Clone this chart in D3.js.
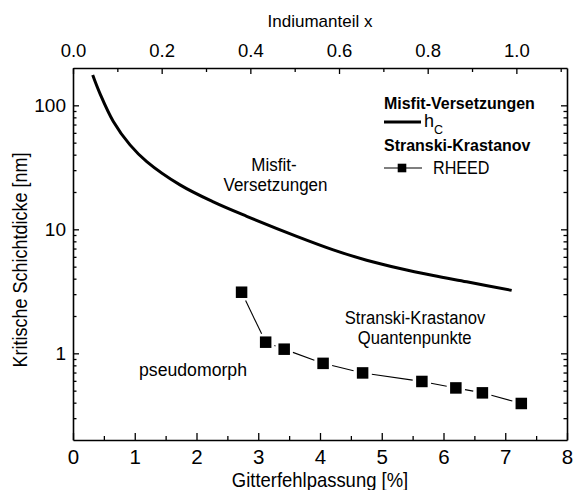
<!DOCTYPE html>
<html>
<head>
<meta charset="utf-8">
<script src="https://cdn.jsdelivr.net/npm/d3@7"></script>
<style>
  html, body { margin: 0; padding: 0; background: #fff; }
  svg { display: block; }
  text { font-family: "Liberation Sans", Arial, Helvetica, sans-serif; fill: #000; }
</style>
</head>
<body>
<svg id="chart" width="573" height="490"></svg>
<script>
// ---- data ----
// critical thickness h_c: misfit [%] -> thickness [nm]
const hcMisfit = [0.319, 0.437, 0.653, 0.923, 1.194, 1.733, 2.272, 2.813, 3.623, 4.215, 4.755, 5.296, 5.835, 6.376, 7.104];
const hcThick  = [175.6, 124.3, 74.1, 47.96, 35.17, 22.82, 16.64, 12.74, 8.786, 6.837, 5.636, 4.832, 4.243, 3.774, 3.218];
// RHEED onset of Stranski-Krastanov islanding
const rheedMisfit = [2.73, 3.12, 3.42, 4.05, 4.69, 5.65, 6.20, 6.63, 7.26];
const rheedThick  = [3.11, 1.23, 1.08, 0.83, 0.695, 0.593, 0.526, 0.48, 0.394];
// axes
const bottomTicks = [0, 1, 2, 3, 4, 5, 6, 7, 8];
const bottomMinor = [0.5, 1.5, 2.5, 3.5, 4.5, 5.5, 6.5, 7.5];
const topTicks = [0.0, 0.2, 0.4, 0.6, 0.8, 1.0];
const topMinor = [0.1, 0.3, 0.5, 0.7, 0.9, 1.1];
const leftTicks = [1, 10, 100];
const leftMinor = [0.3, 0.4, 0.5, 0.6, 0.7, 0.8, 0.9, 2, 3, 4, 5, 6, 7, 8, 9, 20, 30, 40, 50, 60, 70, 80, 90];
const misfitAtX1 = 7.18; // mismatch InAs/GaAs [%] -> top axis x = 1.0
const xLabel = "Gitterfehlpassung [%]";
const xTopLabel = "Indiumanteil x";
const yLabel = "Kritische Schichtdicke  [nm]";

// ---- layout ----
const L = 73, R = 567, T = 68, B = 440;
const svg = d3.select("#chart");

const x = d3.scaleLinear().domain([0, 8]).range([L, R]);
const xTop = d3.scaleLinear().domain([0, 8 / misfitAtX1]).range([L, R]);
const y = d3.scaleLog().domain([0.2, 200]).range([B, T]);

function styleAxis(g, fs) {
  g.selectAll("path.domain").attr("stroke", "#000").attr("stroke-width", 1.6);
  g.selectAll(".tick line").attr("stroke", "#000").attr("stroke-width", 1.3);
  g.selectAll("text").attr("font-size", fs).attr("fill", "#000")
    .style("font-family", '"Liberation Sans", Arial, sans-serif');
}

// bottom axis
svg.append("g").attr("transform", `translate(0,${B})`)
  .call(d3.axisBottom(x).tickValues(bottomTicks).tickFormat(d3.format("d")).tickSize(-7).tickSizeOuter(0).tickPadding(9))
  .call(g => styleAxis(g, 20.5));
svg.append("g").attr("transform", `translate(0,${B})`)
  .call(d3.axisBottom(x).tickValues(bottomMinor).tickFormat("").tickSize(-4).tickSizeOuter(0))
  .call(g => { styleAxis(g, 10); g.select("path.domain").remove(); });

// top axis
svg.append("g").attr("transform", `translate(0,${T})`)
  .call(d3.axisTop(xTop).tickValues(topTicks).tickFormat(d3.format(".1f")).tickSize(-6).tickSizeOuter(0).tickPadding(11))
  .call(g => styleAxis(g, 18.5));
svg.append("g").attr("transform", `translate(0,${T})`)
  .call(d3.axisTop(xTop).tickValues(topMinor).tickFormat("").tickSize(-4).tickSizeOuter(0))
  .call(g => { styleAxis(g, 10); g.select("path.domain").remove(); });

// left axis
svg.append("g").attr("transform", `translate(${L},0)`)
  .call(d3.axisLeft(y).tickValues(leftTicks).tickFormat(d3.format("d")).tickSize(-6).tickSizeOuter(0).tickPadding(7))
  .call(g => styleAxis(g, 19));
svg.append("g").attr("transform", `translate(${L},0)`)
  .call(d3.axisLeft(y).tickValues(leftMinor).tickFormat("").tickSize(-3.5).tickSizeOuter(0))
  .call(g => { styleAxis(g, 10); g.select("path.domain").remove(); });

// right axis
svg.append("g").attr("transform", `translate(${R},0)`)
  .call(d3.axisRight(y).tickValues(leftTicks).tickFormat("").tickSize(-6).tickSizeOuter(0))
  .call(g => styleAxis(g, 10));
svg.append("g").attr("transform", `translate(${R},0)`)
  .call(d3.axisRight(y).tickValues(leftMinor).tickFormat("").tickSize(-3.5).tickSizeOuter(0))
  .call(g => { styleAxis(g, 10); g.select("path.domain").remove(); });

// text helper
function label(txt, px, py, opt = {}) {
  const g = svg.append("g")
    .attr("transform", `translate(${px},${py}) rotate(${opt.rot || 0}) scale(${opt.sx || 1},1)`);
  return g.append("text")
    .attr("text-anchor", opt.anchor || "middle")
    .attr("font-size", opt.fs || 19)
    .attr("font-weight", opt.bold ? "bold" : "normal")
    .text(txt);
}

// axis titles
label(xLabel, (L + R) / 2, 487, { fs: 20.5, sx: 0.9 });
label(xTopLabel, (L + R) / 2, 26.5, { fs: 17 });
label(yLabel, 27, 260, { fs: 20, rot: -90, sx: 0.9 });

// h_c curve
const hcData = hcMisfit.map((m, i) => [m, hcThick[i]]);
svg.append("path")
  .datum(hcData)
  .attr("fill", "none").attr("stroke", "#000").attr("stroke-width", 3)
  .attr("d", d3.line().x(d => x(d[0])).y(d => y(d[1])).curve(d3.curveCatmullRom.alpha(0.5)));

// RHEED series: line segments with gaps around symbols
const rd = rheedMisfit.map((m, i) => [x(m), y(rheedThick[i])]);
const gap = 9.3;
const segs = [];
for (let i = 0; i < rd.length - 1; i++) {
  const [x1, y1] = rd[i], [x2, y2] = rd[i + 1];
  const len = Math.hypot(x2 - x1, y2 - y1);
  if (len > 2 * gap) {
    const ux = (x2 - x1) / len, uy = (y2 - y1) / len;
    segs.push([x1 + ux * gap, y1 + uy * gap, x2 - ux * gap, y2 - uy * gap]);
  }
}
svg.append("g").selectAll("line").data(segs).join("line")
  .attr("x1", d => d[0]).attr("y1", d => d[1]).attr("x2", d => d[2]).attr("y2", d => d[3])
  .attr("stroke", "#000").attr("stroke-width", 1.1);
const sq = 11.5;
svg.append("g").selectAll("rect").data(rd).join("rect")
  .attr("x", d => d[0] - sq / 2).attr("y", d => d[1] - sq / 2)
  .attr("width", sq).attr("height", sq).attr("fill", "#000");

// region annotations
label("Misfit-", 274, 171, { fs: 18.5, sx: 0.92 });
label("Versetzungen", 275.5, 191, { fs: 18.5, sx: 0.92 });
label("Stranski-Krastanov", 415, 324, { fs: 18.5, sx: 0.9 });
label("Quantenpunkte", 414.7, 344, { fs: 18.5, sx: 0.9 });
label("pseudomorph", 193, 376, { fs: 19, sx: 0.93 });

// legend
label("Misfit-Versetzungen", 384, 109, { fs: 17, bold: true, anchor: "start", sx: 0.94 });
svg.append("line").attr("x1", 384).attr("x2", 421).attr("y1", 122).attr("y2", 122)
  .attr("stroke", "#000").attr("stroke-width", 3);
const hc = label("h", 424, 127, { fs: 18, anchor: "start" });
hc.append("tspan").attr("font-size", 12.5).attr("dy", 7).text("C");
label("Stranski-Krastanov", 384, 151, { fs: 17, bold: true, anchor: "start", sx: 0.94 });
svg.append("line").attr("x1", 384).attr("x2", 422).attr("y1", 168).attr("y2", 168)
  .attr("stroke", "#000").attr("stroke-width", 1.1);
svg.append("rect").attr("x", 402 - 4.3).attr("y", 168 - 4.3).attr("width", 8.6).attr("height", 8.6).attr("fill", "#000");
label("RHEED", 433, 174, { fs: 19, anchor: "start", sx: 0.85 });
</script>
</body>
</html>
